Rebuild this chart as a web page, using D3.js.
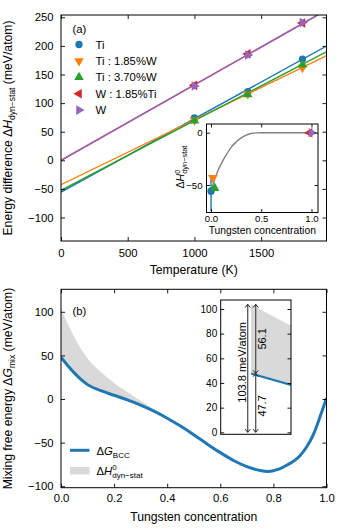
<!DOCTYPE html>
<html><head><meta charset="utf-8">
<script src="https://cdn.jsdelivr.net/npm/d3@7"></script>
<style>
body{margin:0;background:#fff}
svg{display:block}
text{font-family:"Liberation Sans",Arial,Helvetica,sans-serif;fill:#000}
</style>
</head><body>
<svg id="c" width="340" height="530"></svg>
<script>
// ---------------- DATA ----------------
// Panel (a): dynamic - static enthalpy difference vs temperature
const temperatures = [1000, 1400, 1810];
const seriesNames = ["Ti", "Ti : 1.85%W", "Ti : 3.70%W", "W : 1.85%Ti", "W"];
const seriesColors = ["#1f77b4", "#ff7f0e", "#2ca02c", "#d62728", "#9467bd"];
const seriesSymbols = ["circle", "down", "up", "left", "right"];
const tiValues = [74, 120, 177];
const ti185wValues = [70, 116, 162];
const ti370wValues = [69, 115, 167];
const w185tiValues = [131, 186, 240];
const wValues = [130, 184, 241];
// linear fits: value at T = 0 K and at T = 2000 K
const fitTemps = [0, 2000];
const fitAt0 = [-55.5, -42.6, -52.5, 0, 0];
const fitAt2000 = [201, 184, 191, 264, 264];
const tempTicks = [0, 500, 1000, 1500];
const enthalpyTicks = [-100, -50, 0, 50, 100, 150, 200, 250];

// Inset (a): zero-temperature extrapolation vs tungsten concentration
const insetConc = [0, 0.0185, 0.037, 0.9815, 1.0];
const insetH0 = [-56, -43, -53, 0, 0];
const insetErrLow = [-75, null, null, null, null];
const insetErrHigh = [-42, null, null, null, null];
const insetXTicks = [0, 0.5, 1.0];
const insetYTicks = [-50, 0];

// Panel (b): mixing free energy vs tungsten concentration
const concGrid = [0, 0.025, 0.05, 0.075, 0.1, 0.15, 0.2, 0.25, 0.3, 0.35, 0.4, 0.45, 0.5,
                  0.55, 0.6, 0.65, 0.7, 0.75, 0.78, 0.8, 0.85, 0.9, 0.925, 0.95, 0.975, 1.0];
const gBCC = [47.7, 38.5, 30, 22.5, 16.5, 9.5, 4.3, -1, -7, -14, -22, -31, -41,
              -51.5, -61.5, -70.5, -77.5, -82, -83, -82.3, -76, -65, -55, -41, -21, 1];
const dHdynStat = [56.1, 48, 41, 35, 30, 21.5, 14, 9, 5, 2.3, 0.8, 0.2, 0,
                   0, 0, 0, 0, 0, 0, 0, 0, 0, 0, 0, 0, 0];
const concTicks = [0, 0.2, 0.4, 0.6, 0.8, 1.0];
const mixTicks = [-100, -50, 0, 50, 100];
const insetBTicks = [0, 20, 40, 60, 80, 100];
// annotation arrows in inset (b): [x position, from, to]
const arrowLeft = [-0.0021, 0, 103.8];
const arrowRightTop = [0.0029, 47.7, 103.8];
const arrowRightBottom = [0.0029, 0, 47.7];
const arrowLabels = ["103.8 meV/atom", "56.1", "47.7"];

const seriesValues = [tiValues, ti185wValues, ti370wValues, w185tiValues, wValues];

// ---------------- HELPERS ----------------
const FONT = '"Liberation Sans",Arial,Helvetica,sans-serif';
const svg = d3.select("#c");
svg.append("rect").attr("width", 340).attr("height", 530).attr("fill", "#fff");
const defs = svg.append("defs");

function drawAxes(g, x, y, box, o) {
  const fr = g.append("g");
  if (!o.noX) {
    fr.append("g").attr("transform", `translate(0,${box.b})`)
      .call(d3.axisBottom(x).tickValues(o.xt).tickFormat(o.xf).tickSize(-o.len).tickSizeOuter(0).tickPadding(o.padX));
    fr.append("g").attr("transform", `translate(0,${box.t})`)
      .call(d3.axisTop(x).tickValues(o.xt).tickFormat("").tickSize(-o.len).tickSizeOuter(0));
  }
  fr.append("g").attr("transform", `translate(${box.l},0)`)
    .call(d3.axisLeft(y).tickValues(o.yt).tickFormat(o.yf).tickSize(-o.len).tickSizeOuter(0).tickPadding(o.padY));
  fr.append("g").attr("transform", `translate(${box.r},0)`)
    .call(d3.axisRight(y).tickValues(o.yt).tickFormat("").tickSize(-o.len).tickSizeOuter(0));
  fr.selectAll(".domain").remove();
  fr.selectAll("text").attr("font-size", o.fs).attr("font-family", FONT).attr("fill", "#000");
  fr.selectAll("line").attr("stroke", "#000").attr("stroke-width", 0.9);
  g.append("rect").attr("x", box.l).attr("y", box.t)
    .attr("width", box.r - box.l).attr("height", box.b - box.t)
    .attr("fill", "none").attr("stroke", "#000").attr("stroke-width", 1);
}

// rich text parts: {t, off (baseline offset px), s (size px), i (italic), dx}
function rich(sel, parts) {
  let cur = 0;
  parts.forEach(p => {
    const ts = sel.append("tspan").text(p.t)
      .attr("font-size", p.s).attr("dy", (p.off || 0) - cur);
    if (p.i) ts.attr("font-style", "italic");
    if (p.dx) ts.attr("dx", p.dx);
    cur = p.off || 0;
  });
}

function symbolPath(kind, size) {
  if (kind === "circle") return d3.symbol(d3.symbolCircle, size)();
  return d3.symbol(d3.symbolTriangle, size * 0.95)();
}
function symbolRot(kind) {
  return {circle: 0, up: 0, down: 180, left: -90, right: 90}[kind];
}
function marker(g, kind, cx, cy, color, size) {
  g.append("path").attr("d", symbolPath(kind, size))
    .attr("transform", `translate(${cx},${cy}) rotate(${symbolRot(kind)})`)
    .attr("fill", color);
}

// ---------------- PANEL (a) ----------------
const A = {l: 61, r: 326.5, t: 15, b: 241};
const xA = d3.scaleLinear().domain([0, 1990]).range([A.l, A.r]);
const yA = d3.scaleLinear().domain([-141, 254]).range([A.b, A.t]);
const gA = svg.append("g");
gA.append("clipPath").attr("id", "clipA").append("rect")
  .attr("x", A.l).attr("y", A.t).attr("width", A.r - A.l).attr("height", A.b - A.t);
const plotA = gA.append("g").attr("clip-path", "url(#clipA)");
const lineA = d3.line().x(d => xA(d[0])).y(d => yA(d[1]));
seriesNames.forEach((n, i) => {
  plotA.append("path")
    .attr("d", lineA([[fitTemps[0], fitAt0[i]], [fitTemps[1], fitAt2000[i]]]))
    .attr("fill", "none").attr("stroke", seriesColors[i]).attr("stroke-width", 1.4);
});
seriesNames.forEach((n, i) => {
  seriesValues[i].forEach((v, j) => {
    marker(plotA, seriesSymbols[i], xA(temperatures[j]), yA(v), seriesColors[i], 42);
  });
});
drawAxes(gA, xA, yA, A, {xt: tempTicks, yt: enthalpyTicks, xf: d3.format("d"),
  yf: d3.format("d"), fs: 11.3, len: 4, padX: 8, padY: 7.5});

// legend (a)
gA.append("text").attr("x", 72.5).attr("y", 32.5).attr("font-size", 11.3).text("(a)");
seriesNames.forEach((n, i) => {
  const yy = 44.5 + i * 16.4;
  marker(gA, seriesSymbols[i], 79, yy, seriesColors[i], 42);
  gA.append("text").attr("x", 95.5).attr("y", yy + 4).attr("font-size", 11.3).text(n);
});

// axis labels (a)
gA.append("text").attr("x", (A.l + A.r) / 2).attr("y", 273.5).attr("text-anchor", "middle")
  .attr("font-size", 12.2).text("Temperature (K)");
{
  const t = gA.append("text").attr("text-anchor", "middle")
    .attr("transform", `translate(11.5,${(A.t + A.b) / 2}) rotate(-90)`);
  rich(t, [
    {t: "Energy difference Δ", s: 12.2},
    {t: "H", s: 12.2, i: true},
    {t: "dyn−stat", s: 8.5, off: 3},
    {t: " (meV/atom)", s: 12.2, off: 0}
  ]);
}

// ---------------- INSET (a) ----------------
const IA = {l: 206.5, r: 318, t: 124, b: 212.5};
const xIA = d3.scaleLinear().domain([-0.045, 1.065]).range([IA.l, IA.r]);
const yIA = d3.scaleLinear().domain([-76.3, 8.3]).range([IA.b, IA.t]);
const gIA = svg.append("g");
gIA.append("rect").attr("x", IA.l).attr("y", IA.t).attr("width", IA.r - IA.l)
  .attr("height", IA.b - IA.t).attr("fill", "#fff");
gIA.append("clipPath").attr("id", "clipIA").append("rect")
  .attr("x", IA.l).attr("y", IA.t).attr("width", IA.r - IA.l).attr("height", IA.b - IA.t);
const plotIA = gIA.append("g").attr("clip-path", "url(#clipIA)");
plotIA.append("path")
  .attr("d", d3.line().curve(d3.curveMonotoneX)
    .x((d, i) => xIA(concGrid[i])).y(d => yIA(-d))(dHdynStat))
  .attr("fill", "none").attr("stroke", "#808080").attr("stroke-width", 1.4);
insetConc.forEach((c, i) => {
  if (insetErrLow[i] !== null) {
    plotIA.append("line").attr("x1", xIA(c)).attr("x2", xIA(c))
      .attr("y1", yIA(insetErrLow[i])).attr("y2", yIA(insetErrHigh[i]))
      .attr("stroke", seriesColors[i]).attr("stroke-width", 1.4);
  }
});
insetConc.forEach((c, i) => {
  marker(plotIA, seriesSymbols[i], xIA(c), yIA(insetH0[i]), seriesColors[i], 42);
});
drawAxes(gIA, xIA, yIA, IA, {xt: insetXTicks, yt: insetYTicks, xf: d3.format(".1f"),
  yf: d3.format("d"), fs: 9.6, len: 3.5, padX: 3, padY: 4});
gIA.append("text").attr("x", (IA.l + IA.r) / 2).attr("y", 234).attr("text-anchor", "middle")
  .attr("font-size", 10.3).text("Tungsten concentration");
{
  const t = gIA.append("text").attr("text-anchor", "middle")
    .attr("transform", `translate(184,167) rotate(-90)`);
  rich(t, [
    {t: "Δ", s: 10.5},
    {t: "H", s: 10.5, i: true},
    {t: "0", s: 7.4, off: -4.5},
    {t: "dyn−stat", s: 7.4, off: 3, dx: -4.1}
  ]);
}

// ---------------- PANEL (b) ----------------
const B = {l: 61, r: 326.5, t: 289.3, b: 487.7};
const xB = d3.scaleLinear().domain([0, 1]).range([B.l, B.r]);
const yB = d3.scaleLinear().domain([-101.7, 125.8]).range([B.b, B.t]);
const gB = svg.append("g");
gB.append("clipPath").attr("id", "clipB").append("rect")
  .attr("x", B.l).attr("y", B.t).attr("width", B.r - B.l).attr("height", B.b - B.t);
const plotB = gB.append("g").attr("clip-path", "url(#clipB)");
const bandIdx = concGrid.map((c, i) => i).filter(i => concGrid[i] <= 0.5);
const bandArea = d3.area().curve(d3.curveMonotoneX)
  .x(i => xB(concGrid[i])).y0(i => yB(gBCC[i])).y1(i => yB(gBCC[i] + dHdynStat[i]));
plotB.append("path").attr("d", bandArea(bandIdx)).attr("fill", "#d9d9d9");
plotB.append("path")
  .attr("d", d3.line().curve(d3.curveMonotoneX).x((d, i) => xB(concGrid[i])).y(d => yB(d))(gBCC))
  .attr("fill", "none").attr("stroke", "#1f77b4").attr("stroke-width", 3);
drawAxes(gB, xB, yB, B, {xt: concTicks, yt: mixTicks, xf: d3.format(".1f"),
  yf: d3.format("d"), fs: 11.3, len: 4, padX: 6, padY: 7.5});
gB.append("text").attr("x", 72.5).attr("y", 314.5).attr("font-size", 11.3).text("(b)");
gB.append("text").attr("x", (B.l + B.r) / 2).attr("y", 520.5).attr("text-anchor", "middle")
  .attr("font-size", 12.2).text("Tungsten concentration");
{
  const t = gB.append("text").attr("text-anchor", "middle")
    .attr("transform", `translate(11.5,${(B.t + B.b) / 2}) rotate(-90)`);
  rich(t, [
    {t: "Mixing free energy Δ", s: 12.2},
    {t: "G", s: 12.2, i: true},
    {t: "mix", s: 8.5, off: 3},
    {t: " (meV/atom)", s: 12.2, off: 0}
  ]);
}
// legend (b)
gB.append("line").attr("x1", 70).attr("x2", 89.5).attr("y1", 450.3).attr("y2", 450.3)
  .attr("stroke", "#1f77b4").attr("stroke-width", 3);
{
  const t = gB.append("text").attr("x", 96.5).attr("y", 454.5);
  rich(t, [
    {t: "Δ", s: 11.3},
    {t: "G", s: 11.3, i: true},
    {t: "BCC", s: 8, off: 3}
  ]);
}
gB.append("rect").attr("x", 70).attr("y", 467).attr("width", 19.5).attr("height", 7.5)
  .attr("fill", "#d9d9d9");
{
  const t = gB.append("text").attr("x", 96.5).attr("y", 474.5);
  rich(t, [
    {t: "Δ", s: 11.3},
    {t: "H", s: 11.3, i: true},
    {t: "0", s: 8, off: -5},
    {t: "dyn−stat", s: 8, off: 3, dx: -4.45}
  ]);
}

// ---------------- INSET (b) ----------------
const IB = {l: 220.7, r: 291, t: 300, b: 434.3};
const xIB = d3.scaleLinear().domain([-0.019, 0.025]).range([IB.l, IB.r]);
const yIB = d3.scaleLinear().domain([-1.6, 107.3]).range([IB.b, IB.t]);
const gIB = svg.append("g");
gIB.append("rect").attr("x", IB.l).attr("y", IB.t).attr("width", IB.r - IB.l)
  .attr("height", IB.b - IB.t).attr("fill", "#fff");
gIB.append("clipPath").attr("id", "clipIB").append("rect")
  .attr("x", IB.l).attr("y", IB.t).attr("width", IB.r - IB.l).attr("height", IB.b - IB.t);
const plotIB = gIB.append("g").attr("clip-path", "url(#clipIB)");
const bandAreaIB = d3.area().curve(d3.curveMonotoneX)
  .x(i => xIB(concGrid[i])).y0(i => yIB(gBCC[i])).y1(i => yIB(gBCC[i] + dHdynStat[i]));
plotIB.append("path").attr("d", bandAreaIB(bandIdx)).attr("fill", "#d9d9d9");
plotIB.append("path")
  .attr("d", d3.line().curve(d3.curveMonotoneX).x((d, i) => xIB(concGrid[i])).y(d => yIB(d))(gBCC))
  .attr("fill", "none").attr("stroke", "#1f77b4").attr("stroke-width", 2.2);

// double-headed arrows
defs.append("marker").attr("id", "arrHead").attr("viewBox", "-5 -5 10 10")
  .attr("markerWidth", 10).attr("markerHeight", 10).attr("markerUnits", "userSpaceOnUse")
  .attr("orient", "auto-start-reverse").attr("refX", 0).attr("refY", 0)
  .append("path").attr("d", "M-3.2,-2.6 L0,0 L-3.2,2.6")
  .attr("fill", "none").attr("stroke", "#222").attr("stroke-width", 1);
[arrowLeft, arrowRightTop, arrowRightBottom].forEach(a => {
  gIB.append("line").attr("x1", xIB(a[0])).attr("x2", xIB(a[0]))
    .attr("y1", yIB(a[1])).attr("y2", yIB(a[2]))
    .attr("stroke", "#555").attr("stroke-width", 1.3)
    .attr("marker-start", "url(#arrHead)").attr("marker-end", "url(#arrHead)");
});

drawAxes(gIB, xIB, yIB, IB, {noX: true, xt: [], yt: insetBTicks, xf: d3.format(".1f"),
  yf: d3.format("d"), fs: 10, len: 3.5, padX: 4, padY: 3.5});

gIB.append("text").attr("text-anchor", "middle").attr("font-size", 11)
  .attr("transform", `translate(246,${(yIB(arrowLeft[1]) + yIB(arrowLeft[2])) / 2 - 6}) rotate(-90)`)
  .text(arrowLabels[0]);
gIB.append("text").attr("text-anchor", "middle").attr("font-size", 11)
  .attr("transform", `translate(265.5,${(yIB(arrowRightTop[1]) + yIB(arrowRightTop[2])) / 2}) rotate(-90)`)
  .text(arrowLabels[1]);
gIB.append("text").attr("text-anchor", "middle").attr("font-size", 11)
  .attr("transform", `translate(265.5,${(yIB(arrowRightBottom[1]) + yIB(arrowRightBottom[2])) / 2 + 3}) rotate(-90)`)
  .text(arrowLabels[2]);
</script>
</body></html>
